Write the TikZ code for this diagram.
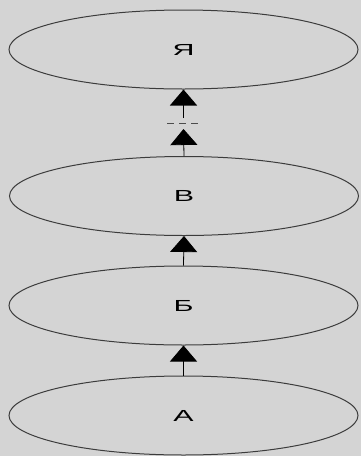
\documentclass[tikz,border=0pt]{standalone}
\usepackage{fontspec}
\setmainfont{Liberation Sans}
\usetikzlibrary{shapes.geometric,arrows.meta}
\definecolor{bg}{RGB}{212,212,212}
\definecolor{edge}{RGB}{60,60,60}
\tikzset{
  level/.style={ellipse, draw=edge, line width=1pt, minimum width=349pt, minimum height=79pt, inner sep=0pt,
    font=\fontsize{16}{16}\selectfont},
  upar/.style={-{Triangle[width=27pt,length=16pt]}, line width=0.8pt, draw=black!60, color=black},
  uparthick/.style={-{Triangle[width=27pt,length=16pt]}, line width=1.6pt, color=black},
  gap/.style={dashed, dash pattern=on 7pt off 5pt, line width=0.8pt, draw=black!70}
}
\newcommand{\wide}[1]{\scalebox{1.9}[1]{#1}}
\begin{document}
\begin{tikzpicture}[x=1pt,y=-1pt]
\fill[bg] (0,0) rectangle (361,456);
\useasboundingbox (0,0) rectangle (361,456);
\node[level] (ya) at (183.5,49.5) {\wide{Я}};
\node[level] (v) at (184,196) {\wide{В}};
\node[level] (b) at (183.5,305.5) {\wide{Б}};
\node[level] (a) at (183.5,415.5) {\wide{А}};
\coordinate (t1) at (183.5,129);
\coordinate (t2) at (183.5,118);
\coordinate (d1) at (167,123);
\coordinate (d2) at (202,123);
\draw[upar] (a.north) -- (b.south);
\draw[upar] (b.north) -- (v.south);
\draw[upar] (v.north) -- (t1);
\draw[gap] (d1) -- (d2);
\draw[uparthick] (t2) -- (ya.south);
\end{tikzpicture}
\end{document}
